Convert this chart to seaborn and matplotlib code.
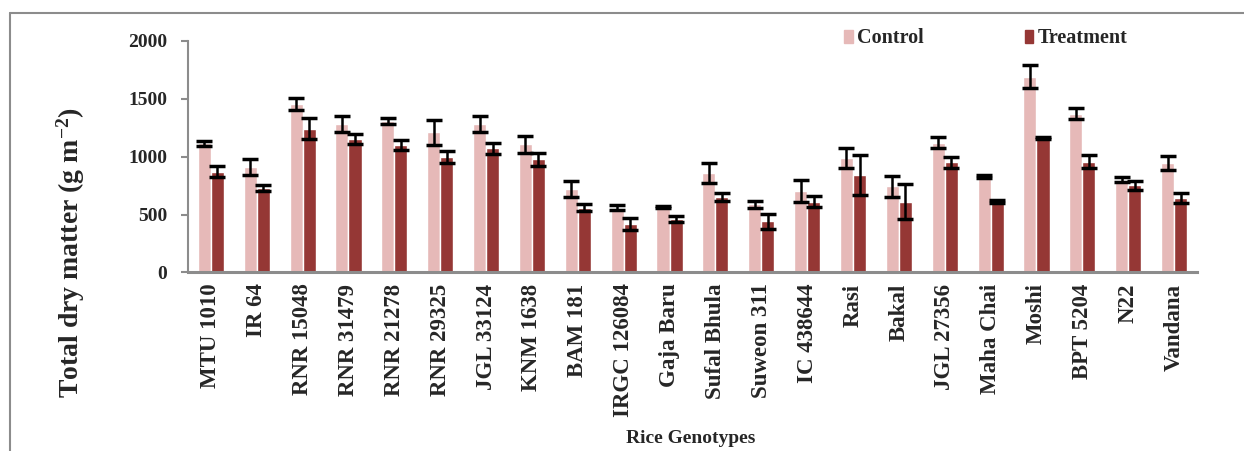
import numpy as np
import pandas as pd
import matplotlib
matplotlib.use("Agg")
import matplotlib.pyplot as plt
import seaborn as sns
from matplotlib.lines import Line2D

genotypes = ["MTU 1010", "IR 64", "RNR 15048", "RNR 31479", "RNR 21278", "RNR 29325",
             "JGL 33124", "KNM 1638", "BAM 181", "IRGC 126084", "Gaja Baru", "Sufal Bhula",
             "Suweon 311", "IC 438644", "Rasi", "Bakal", "JGL 27356", "Maha Chai", "Moshi",
             "BPT 5204", "N22", "Vandana"]
control = [1115, 910, 1455, 1280, 1305, 1210, 1280, 1105, 720, 560, 565, 860,
           590, 700, 985, 745, 1120, 830, 1690, 1370, 800, 945]
control_err = [22, 70, 50, 70, 28, 108, 70, 70, 68, 22, 12, 88,
               30, 95, 85, 90, 50, 14, 98, 48, 20, 58]
treatment = [870, 730, 1240, 1150, 1100, 1000, 1070, 975, 560, 420, 460, 655,
             440, 612, 840, 610, 950, 610, 1160, 955, 752, 640]
treatment_err = [50, 27, 90, 45, 42, 52, 48, 58, 32, 52, 25, 34,
                 65, 45, 175, 150, 45, 12, 12, 55, 36, 42]
series = ["Control", "Treatment"]
colors = ["#E6B9B8", "#953735"]

sns.set_theme(style="white")
plt.rcParams['font.family'] = ['Liberation Serif', 'DejaVu Serif']
plt.rcParams['font.weight'] = 'bold'
plt.rcParams['mathtext.fontset'] = 'custom'
plt.rcParams['mathtext.rm'] = 'Liberation Serif'
plt.rcParams['mathtext.bf'] = 'Liberation Serif:bold'
plt.rcParams['mathtext.default'] = 'bf'

df = pd.DataFrame({
    "Genotype": genotypes * 2,
    "Condition": [series[0]] * len(genotypes) + [series[1]] * len(genotypes),
    "Value": control + treatment,
})

fig = plt.figure(figsize=(12.44, 4.51), dpi=100)
ax = fig.add_axes([0.1511, 0.3958, 0.8111, 0.514])

sns.barplot(data=df, x="Genotype", y="Value", hue="Condition", palette=colors,
            width=0.57, gap=0, errorbar=None, saturation=1, ax=ax, order=genotypes,
            hue_order=series)

for cont, errs in zip(ax.containers, [control_err, treatment_err]):
    for bar, e in zip(cont, errs):
        xc = bar.get_x() + bar.get_width() / 2
        ax.errorbar(xc, bar.get_height(), yerr=e, fmt="none", ecolor="black",
                    elinewidth=1.8, capsize=5.8, capthick=2.5, zorder=5)

ax.set_ylim(0, 2000)
ax.set_yticks([0, 500, 1000, 1500, 2000])
ax.set_xlim(-0.5, len(genotypes) - 0.5)
ax.set_xlabel("")
ax.set_ylabel("")

for s in ["top", "right"]:
    ax.spines[s].set_visible(False)
ax.spines["left"].set_color("#8C8C8C")
ax.spines["left"].set_linewidth(1.5)
ax.spines["bottom"].set_color("#8C8C8C")
ax.spines["bottom"].set_linewidth(2.2)

ax.tick_params(axis="y", which="both", left=True, length=5, width=1.5, color="#8C8C8C",
               labelsize=14, pad=10)
ax.tick_params(axis="x", bottom=False, labelsize=16.5, pad=2)
for lab in ax.get_yticklabels():
    lab.set_fontweight("bold")
for lab in ax.get_xticklabels():
    lab.set_rotation(90)
    lab.set_fontweight("bold")
    lab.set_va("top")
    lab.set_ha("center")

handles = [plt.Rectangle((0, 0), 1, 1, color=c) for c in colors]
ax.legend(handles, series, ncol=2, frameon=False, loc="center left",
          bbox_to_anchor=(0.6705, 0.915), bbox_transform=fig.transFigure,
          handlelength=0.42, handleheight=0.6, handletextpad=0.22, borderpad=0,
          columnspacing=5.0, prop={"family": "Liberation Serif", "weight": "bold", "size": 14.5})

fig.text(0.057, 0.44, "Total dry matter (g m$^{-2}$)", rotation=90, ha="center", va="center",
         fontsize=20, fontweight="bold")
fig.text(0.555, 0.027, "Rice Genotypes", ha="center", va="center", fontsize=14,
         fontweight="bold")

# outer chart border
fig.add_artist(Line2D([10 / 1244, 1.0], [1 - 13 / 451, 1 - 13 / 451],
                      transform=fig.transFigure, color="#8C8C8C", linewidth=1.5))
fig.add_artist(Line2D([10 / 1244, 10 / 1244], [0.0, 1 - 13 / 451],
                      transform=fig.transFigure, color="#8C8C8C", linewidth=1.5))

fig.savefig("out.png", dpi=100)
